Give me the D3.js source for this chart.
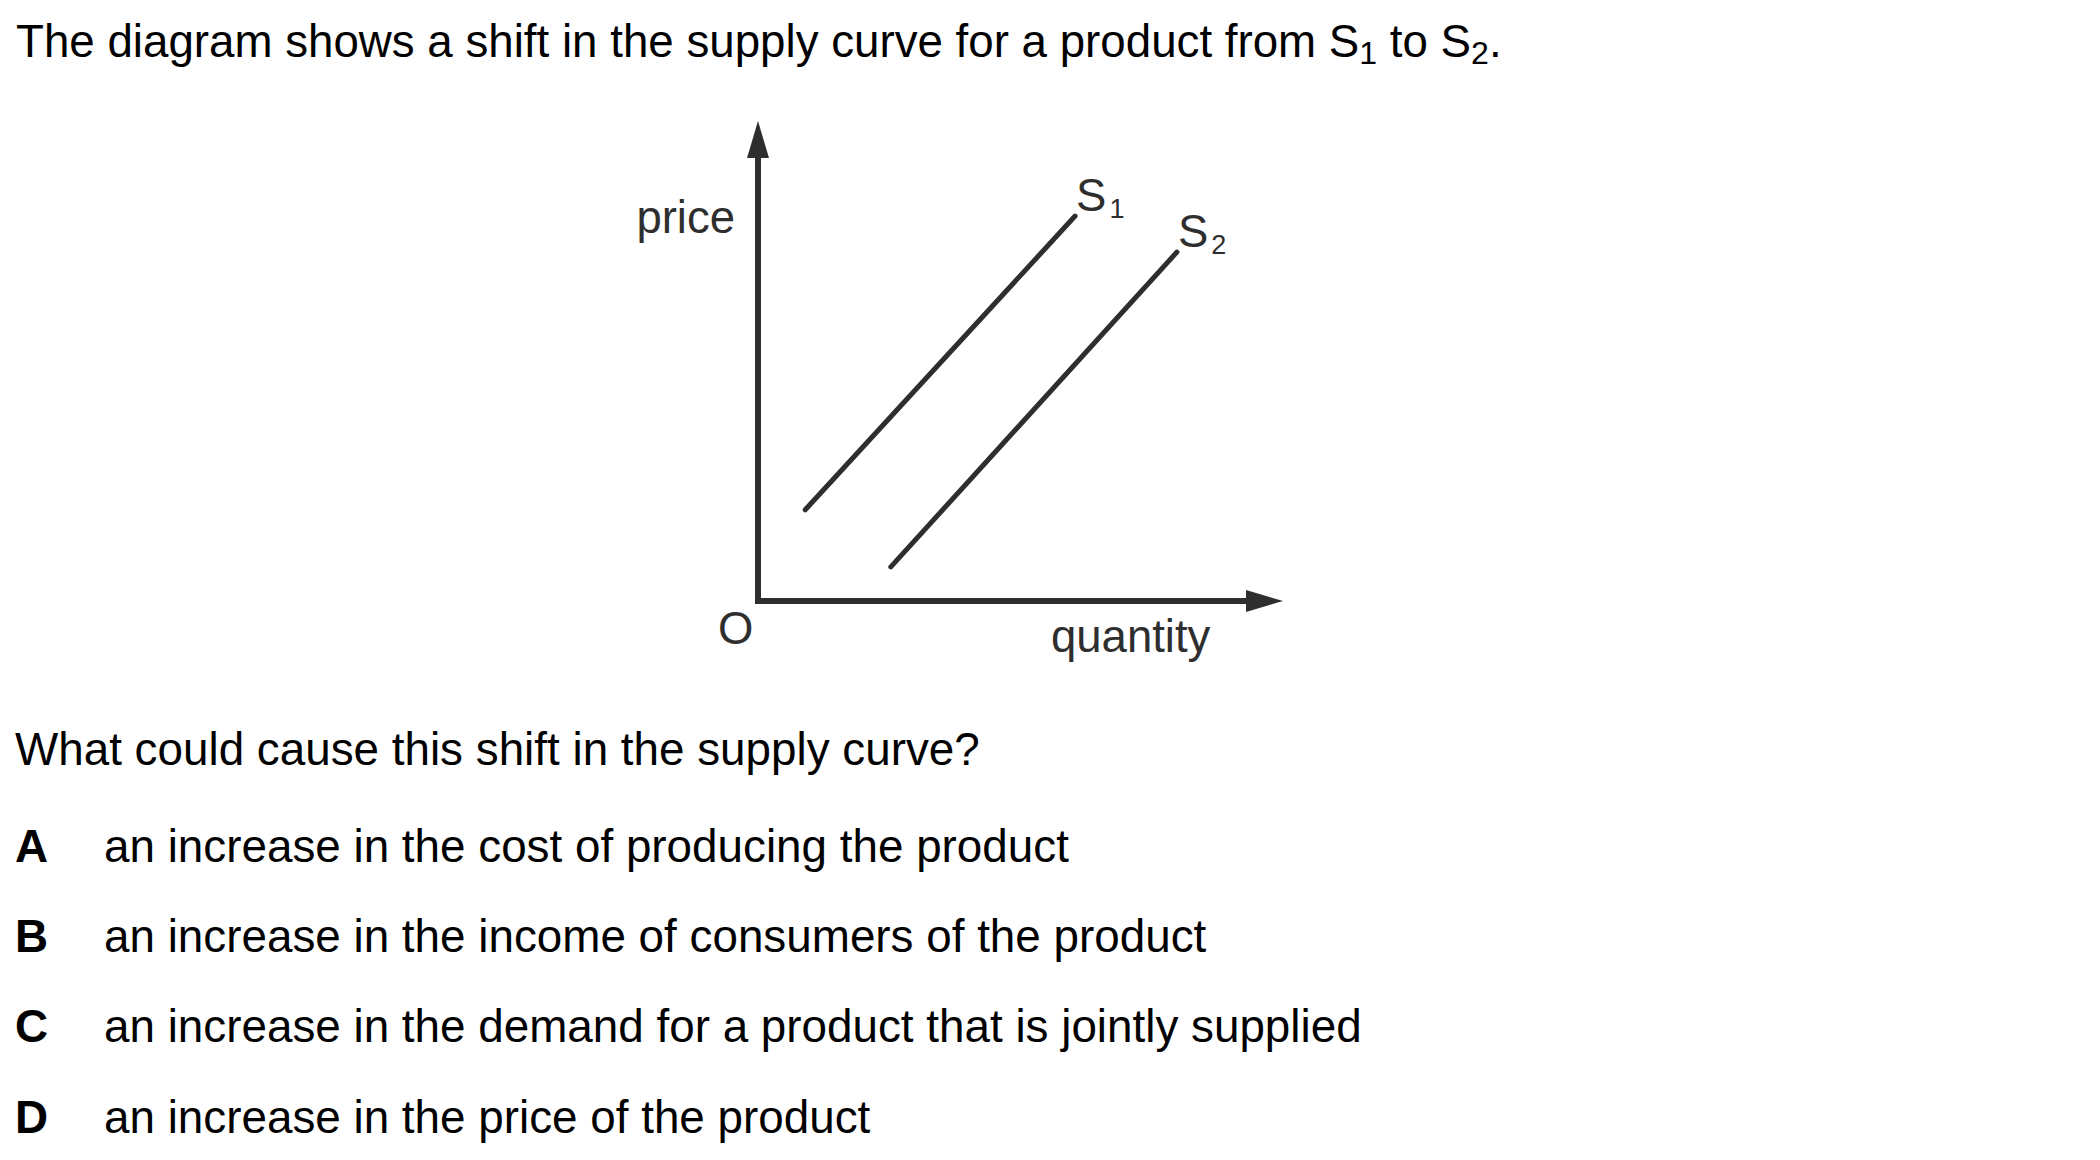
<!DOCTYPE html>
<html>
<head>
<meta charset="utf-8">
<script src="https://cdn.jsdelivr.net/npm/d3@7"></script>
<style>
  html, body { margin: 0; padding: 0; background: #fff; }
  svg { display: block; }
  text { font-family: "Liberation Sans", Arial, sans-serif; }
</style>
</head>
<body>
<svg id="chart" width="2100" height="1160"></svg>
<script>
// ---- data ----
const titleParts = [["The diagram shows a shift in the supply curve for a product from S", false], ["1", true], [" to S", false], ["2", true], [".", false]];
const question = "What could cause this shift in the supply curve?";
const optionLetters = ["A", "B", "C", "D"];
const optionTexts = [
  "an increase in the cost of producing the product",
  "an increase in the income of consumers of the product",
  "an increase in the demand for a product that is jointly supplied",
  "an increase in the price of the product"
];
const axisLabels = { x: "quantity", y: "price", origin: "O" };
const curveNames = ["S1", "S2"];
// supply curves: [quantity, price] endpoints in arbitrary 0-100 units
const s1Points = [[9, 19], [60.4, 80.2]];
const s2Points = [[25.3, 7.1], [79.8, 72.7]];
const axisMax = 100;

// ---- drawing ----
const svg = d3.select("#chart");
const ink = "#000";
const diagInk = "#2e2e2e";

// title
const title = svg.append("text").attr("x", 16).attr("y", 57)
  .attr("font-size", 45.7).attr("fill", ink);
titleParts.forEach(([t, sub], i) => {
  if (sub) {
    title.append("tspan").attr("font-size", 32).attr("dy", 7).text(t);
  } else {
    const ts = title.append("tspan").text(t);
    if (i > 0) ts.attr("dy", -7);
  }
});

// scales
const x = d3.scaleLinear().domain([0, axisMax]).range([758, 1283]);
const y = d3.scaleLinear().domain([0, axisMax]).range([601, 121]);

const g = svg.append("g");
const headLen = 37, headHalf = 11;

// y axis
g.append("line")
  .attr("x1", x(0)).attr("y1", y(0) + 2.5)
  .attr("x2", x(0)).attr("y2", y(axisMax) + headLen - 2)
  .attr("stroke", diagInk).attr("stroke-width", 6);
g.append("path")
  .attr("d", `M${x(0)},${y(axisMax)} L${x(0) + headHalf},${y(axisMax) + headLen} L${x(0) - headHalf},${y(axisMax) + headLen} Z`)
  .attr("fill", diagInk);

// x axis
g.append("line")
  .attr("x1", x(0) - 3).attr("y1", y(0))
  .attr("x2", x(axisMax) - headLen + 2).attr("y2", y(0))
  .attr("stroke", diagInk).attr("stroke-width", 6);
g.append("path")
  .attr("d", `M${x(axisMax)},${y(0)} L${x(axisMax) - headLen},${y(0) - headHalf} L${x(axisMax) - headLen},${y(0) + headHalf} Z`)
  .attr("fill", diagInk);

// supply curves
const lineGen = d3.line().x(d => x(d[0])).y(d => y(d[1]));
[s1Points, s2Points].forEach(pts => {
  g.append("path").attr("d", lineGen(pts))
    .attr("fill", "none").attr("stroke", diagInk)
    .attr("stroke-width", 5).attr("stroke-linecap", "round");
});

// curve labels
[[s1Points, curveNames[0]], [s2Points, curveNames[1]]].forEach(([pts, name]) => {
  const end = pts[pts.length - 1];
  const t = g.append("text")
    .attr("x", x(end[0]) + 1).attr("y", y(end[1]) - 5)
    .attr("font-size", 45.5).attr("fill", diagInk);
  t.append("tspan").text(name[0]);
  t.append("tspan").attr("font-size", 27).attr("dx", 3).attr("dy", 7).text(name.slice(1));
});

// axis labels
g.append("text").attr("x", x(0) - 23).attr("y", 233)
  .attr("text-anchor", "end").attr("font-size", 45.5).attr("fill", diagInk)
  .text(axisLabels.y);
g.append("text").attr("x", 718).attr("y", 644)
  .attr("font-size", 45.5).attr("fill", diagInk).text(axisLabels.origin);
g.append("text").attr("x", 1051).attr("y", 652)
  .attr("font-size", 45.5).attr("fill", diagInk).text(axisLabels.x);

// question
svg.append("text").attr("x", 15).attr("y", 765)
  .attr("font-size", 45.8).attr("fill", ink).text(question);

// options
const baselines = [862, 952, 1042, 1133];
optionLetters.forEach((L, i) => {
  svg.append("text").attr("x", 15).attr("y", baselines[i])
    .attr("font-size", 45.8).attr("font-weight", "bold").attr("fill", ink).text(L);
  svg.append("text").attr("x", 104).attr("y", baselines[i])
    .attr("font-size", 45.8).attr("fill", ink).text(optionTexts[i]);
});
</script>
</body>
</html>
